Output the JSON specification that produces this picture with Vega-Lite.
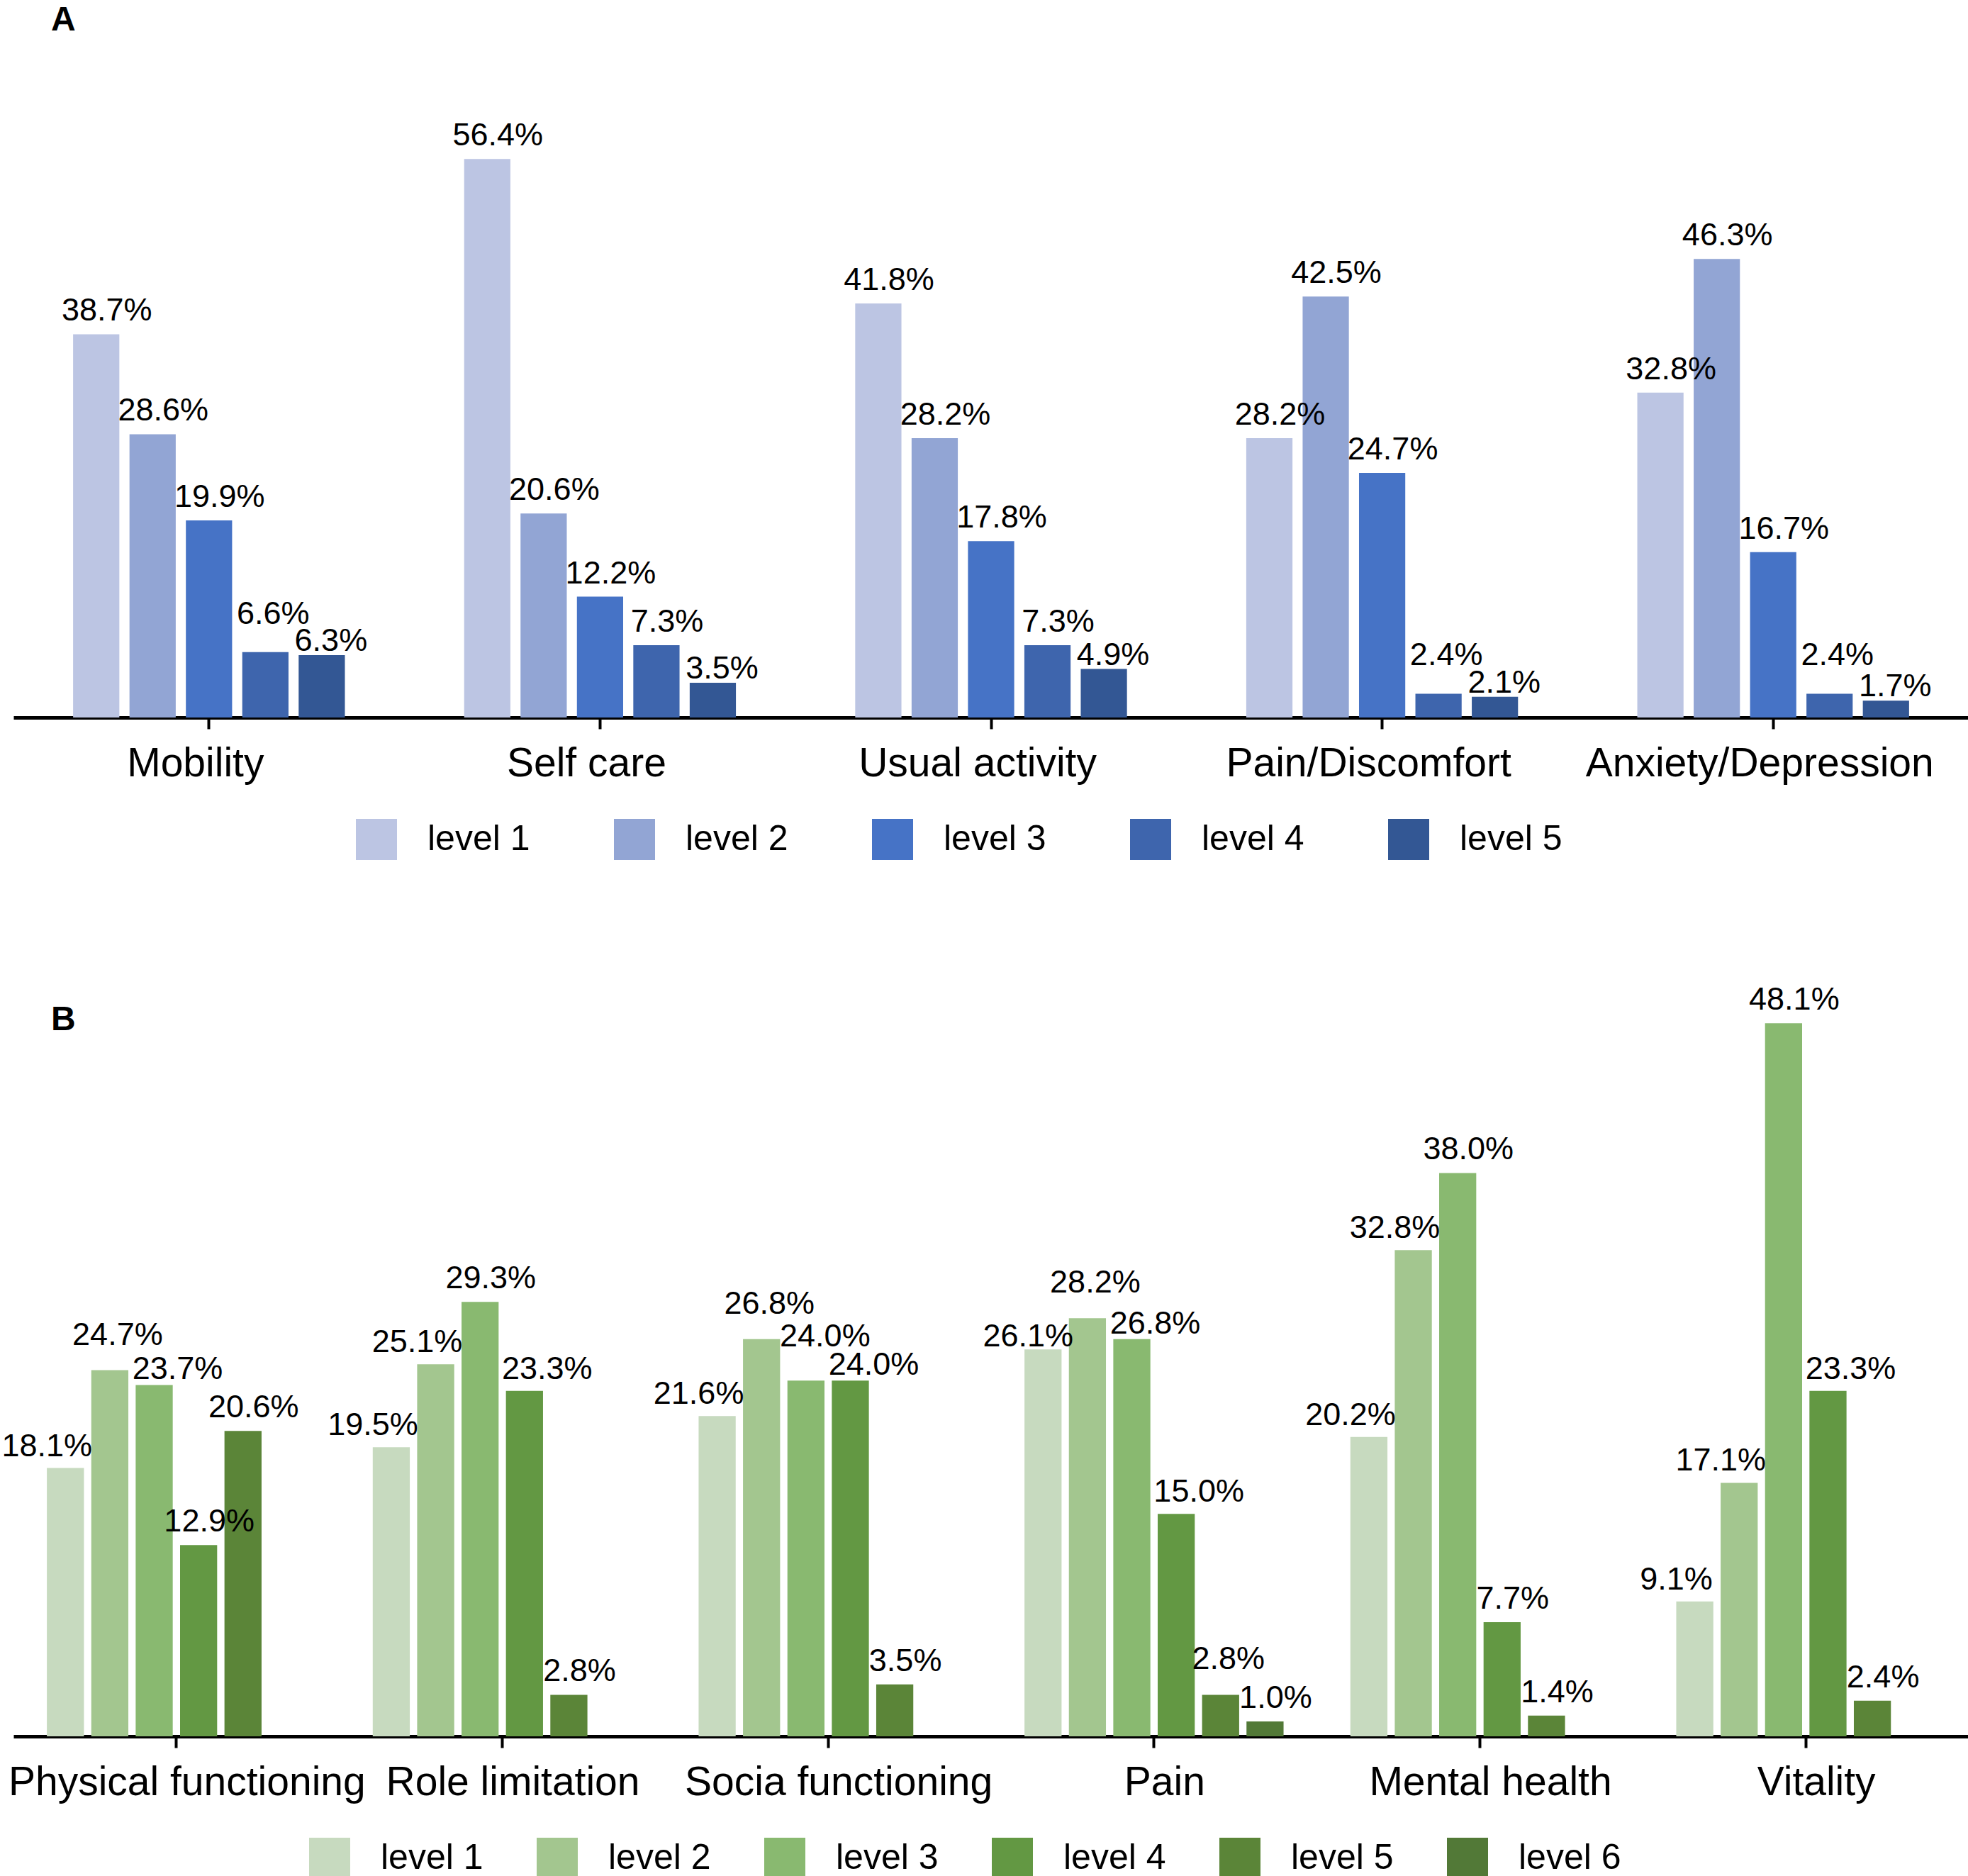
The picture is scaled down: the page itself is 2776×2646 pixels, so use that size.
{
  "$schema": "https://vega.github.io/schema/vega-lite/v6.json",
  "background": "white",
  "padding": {"left": 2, "top": 5, "right": 0, "bottom": 0},
  "autosize": {"type": "pad"},
  "spacing": 86,
  "config": {
    "view": {"stroke": null},
    "font": "Liberation Sans",
    "text": {"baseline": "alphabetic", "fontSize": 45, "color": "black"},
    "axisX": {
      "title": null,
      "labelAngle": 0,
      "labelFontSize": 57,
      "labelColor": "black",
      "labelPadding": 21,
      "labelLimit": 1000,
      "labelOverlap": false,
      "domainColor": "black",
      "domainWidth": 5,
      "tickColor": "black",
      "tickWidth": 4,
      "tickSize": 16,
      "grid": false
    },
    "legend": {
      "title": null,
      "orient": "none",
      "direction": "horizontal",
      "symbolType": "square",
      "symbolSize": 3364,
      "symbolStrokeWidth": 0,
      "symbolOpacity": 1,
      "labelFontSize": 50,
      "labelColor": "black",
      "labelOffset": 43,
      "labelLimit": 400,
      "padding": 0
    },
    "title": {
      "anchor": "start",
      "frame": "group",
      "fontSize": 48,
      "fontWeight": "bold",
      "color": "black",
      "baseline": "alphabetic"
    }
  },
  "resolve": {
    "scale": {"color": "independent", "xOffset": "independent", "x": "independent", "y": "independent"},
    "legend": {"color": "independent"}
  },
  "vconcat": [
    {
      "title": {"text": "A", "dx": 53, "offset": 51},
      "width": 2758,
      "height": 908,
      "data": {
        "values": [
          {"dimension": "Mobility", "level": "level 1", "share": 0.387},
          {"dimension": "Mobility", "level": "level 2", "share": 0.286},
          {"dimension": "Mobility", "level": "level 3", "share": 0.199},
          {"dimension": "Mobility", "level": "level 4", "share": 0.066},
          {"dimension": "Mobility", "level": "level 5", "share": 0.063},
          {"dimension": "Self care", "level": "level 1", "share": 0.564},
          {"dimension": "Self care", "level": "level 2", "share": 0.206},
          {"dimension": "Self care", "level": "level 3", "share": 0.122},
          {"dimension": "Self care", "level": "level 4", "share": 0.073},
          {"dimension": "Self care", "level": "level 5", "share": 0.035},
          {"dimension": "Usual activity", "level": "level 1", "share": 0.418},
          {"dimension": "Usual activity", "level": "level 2", "share": 0.282},
          {"dimension": "Usual activity", "level": "level 3", "share": 0.178},
          {"dimension": "Usual activity", "level": "level 4", "share": 0.073},
          {"dimension": "Usual activity", "level": "level 5", "share": 0.049},
          {"dimension": "Pain/Discomfort", "level": "level 1", "share": 0.282},
          {"dimension": "Pain/Discomfort", "level": "level 2", "share": 0.425},
          {"dimension": "Pain/Discomfort", "level": "level 3", "share": 0.247},
          {"dimension": "Pain/Discomfort", "level": "level 4", "share": 0.024},
          {"dimension": "Pain/Discomfort", "level": "level 5", "share": 0.021},
          {"dimension": "Anxiety/Depression", "level": "level 1", "share": 0.328},
          {"dimension": "Anxiety/Depression", "level": "level 2", "share": 0.463},
          {"dimension": "Anxiety/Depression", "level": "level 3", "share": 0.167},
          {"dimension": "Anxiety/Depression", "level": "level 4", "share": 0.024},
          {"dimension": "Anxiety/Depression", "level": "level 5", "share": 0.017}
        ]
      },
      "encoding": {
        "x": {
          "field": "dimension",
          "type": "nominal",
          "sort": null,
          "scale": {"paddingInner": 0.305, "paddingOuter": 0.1525},
          "axis": {"labelOffset": -19}
        },
        "xOffset": {
          "field": "level",
          "type": "nominal",
          "scale": {
            "domain": ["level 1", "level 2", "level 3", "level 4", "level 5"],
            "paddingInner": 0.18,
            "paddingOuter": 0
          }
        },
        "y": {
          "field": "share",
          "type": "quantitative",
          "scale": {"domain": [0, 0.65]},
          "axis": null
        },
        "text": {"field": "share", "type": "quantitative", "format": ".1%"}
      },
      "layer": [
        {
          "mark": {"type": "bar"},
          "encoding": {
            "color": {
              "field": "level",
              "type": "nominal",
              "scale": {
                "domain": ["level 1", "level 2", "level 3", "level 4", "level 5"],
                "range": ["#bcc5e3", "#92a5d4", "#4673c6", "#3e65ad", "#335794"]
              },
              "legend": {"legendX": 483, "legendY": 1051, "columnPadding": 118}
            },
            "text": null
          }
        },
        {
          "transform": [{"filter": "datum.level != 'level 5' && indexof(['Mobility|level 4', 'Pain/Discomfort|level 4', 'Anxiety/Depression|level 4'], datum.dimension + '|' + datum.level) < 0"}],
          "mark": {"type": "text", "dx": 15, "dy": -19}
        },
        {
          "transform": [{"filter": "indexof(['Mobility|level 4', 'Pain/Discomfort|level 4', 'Anxiety/Depression|level 4'], datum.dimension + '|' + datum.level) >= 0"}],
          "mark": {"type": "text", "dx": 11, "dy": -40}
        },
        {
          "transform": [{"filter": "datum.level == 'level 5'"}],
          "mark": {"type": "text", "dx": 13, "dy": -6}
        }
      ]
    },
    {
      "title": {"text": "B", "dx": 53, "offset": 0, "dy": 164},
      "width": 2758,
      "height": 1150,
      "data": {
        "values": [
          {"dimension": "Physical functioning", "level": "level 1", "share": 0.181},
          {"dimension": "Physical functioning", "level": "level 2", "share": 0.247},
          {"dimension": "Physical functioning", "level": "level 3", "share": 0.237},
          {"dimension": "Physical functioning", "level": "level 4", "share": 0.129},
          {"dimension": "Physical functioning", "level": "level 5", "share": 0.206},
          {"dimension": "Role limitation", "level": "level 1", "share": 0.195},
          {"dimension": "Role limitation", "level": "level 2", "share": 0.251},
          {"dimension": "Role limitation", "level": "level 3", "share": 0.293},
          {"dimension": "Role limitation", "level": "level 4", "share": 0.233},
          {"dimension": "Role limitation", "level": "level 5", "share": 0.028},
          {"dimension": "Socia functioning", "level": "level 1", "share": 0.216},
          {"dimension": "Socia functioning", "level": "level 2", "share": 0.268},
          {"dimension": "Socia functioning", "level": "level 3", "share": 0.240},
          {"dimension": "Socia functioning", "level": "level 4", "share": 0.240},
          {"dimension": "Socia functioning", "level": "level 5", "share": 0.035},
          {"dimension": "Pain", "level": "level 1", "share": 0.261},
          {"dimension": "Pain", "level": "level 2", "share": 0.282},
          {"dimension": "Pain", "level": "level 3", "share": 0.268},
          {"dimension": "Pain", "level": "level 4", "share": 0.150},
          {"dimension": "Pain", "level": "level 5", "share": 0.028},
          {"dimension": "Pain", "level": "level 6", "share": 0.010},
          {"dimension": "Mental health", "level": "level 1", "share": 0.202},
          {"dimension": "Mental health", "level": "level 2", "share": 0.328},
          {"dimension": "Mental health", "level": "level 3", "share": 0.380},
          {"dimension": "Mental health", "level": "level 4", "share": 0.077},
          {"dimension": "Mental health", "level": "level 5", "share": 0.014},
          {"dimension": "Vitality", "level": "level 1", "share": 0.091},
          {"dimension": "Vitality", "level": "level 2", "share": 0.171},
          {"dimension": "Vitality", "level": "level 3", "share": 0.481},
          {"dimension": "Vitality", "level": "level 4", "share": 0.233},
          {"dimension": "Vitality", "level": "level 5", "share": 0.024}
        ]
      },
      "encoding": {
        "x": {
          "field": "dimension",
          "type": "nominal",
          "sort": null,
          "scale": {"paddingInner": 0.205, "paddingOuter": 0.1025},
          "axis": {"labelOffset": 15}
        },
        "xOffset": {
          "field": "level",
          "type": "nominal",
          "scale": {
            "domain": ["level 1", "level 2", "level 3", "level 4", "level 5", "level 6"],
            "paddingInner": 0.165,
            "paddingOuter": 0
          }
        },
        "y": {
          "field": "share",
          "type": "quantitative",
          "scale": {"domain": [0, 0.55]},
          "axis": null
        },
        "text": {"field": "share", "type": "quantitative", "format": ".1%"}
      },
      "layer": [
        {
          "mark": {"type": "bar"},
          "encoding": {
            "color": {
              "field": "level",
              "type": "nominal",
              "scale": {
                "domain": ["level 1", "level 2", "level 3", "level 4", "level 5", "level 6"],
                "range": ["#c7dabf", "#a3c68f", "#89b970", "#639843", "#5b8538", "#527937"]
              },
              "legend": {"legendX": 417, "legendY": 1293, "columnPadding": 75}
            },
            "text": null
          }
        },
        {
          "transform": [{"filter": "indexof(['Physical functioning|level 2', 'Socia functioning|level 2', 'Pain|level 2', 'Pain|level 5', 'Physical functioning|level 1', 'Role limitation|level 1', 'Role limitation|level 2', 'Socia functioning|level 1', 'Mental health|level 1', 'Mental health|level 2', 'Vitality|level 1', 'Vitality|level 2', 'Pain|level 1', 'Physical functioning|level 3', 'Socia functioning|level 4', 'Pain|level 3', 'Role limitation|level 4', 'Pain|level 4', 'Vitality|level 4', 'Socia functioning|level 3'], datum.dimension + '|' + datum.level) < 0"}],
          "mark": {"type": "text", "dx": 15, "dy": -19}
        },
        {
          "transform": [{"filter": "indexof(['Physical functioning|level 2', 'Socia functioning|level 2', 'Pain|level 2', 'Pain|level 5'], datum.dimension + '|' + datum.level) >= 0"}],
          "mark": {"type": "text", "dx": 11, "dy": -36}
        },
        {
          "transform": [{"filter": "indexof(['Physical functioning|level 1', 'Role limitation|level 1', 'Role limitation|level 2', 'Socia functioning|level 1', 'Mental health|level 1', 'Mental health|level 2', 'Vitality|level 1', 'Vitality|level 2'], datum.dimension + '|' + datum.level) >= 0"}],
          "mark": {"type": "text", "dx": -26, "dy": -17}
        },
        {
          "transform": [{"filter": "datum.dimension == 'Pain' && datum.level == 'level 1'"}],
          "mark": {"type": "text", "dx": -21, "dy": -4}
        },
        {
          "transform": [{"filter": "indexof(['Physical functioning|level 3', 'Socia functioning|level 4', 'Pain|level 3'], datum.dimension + '|' + datum.level) >= 0"}],
          "mark": {"type": "text", "dx": 33, "dy": -8}
        },
        {
          "transform": [{"filter": "indexof(['Role limitation|level 4', 'Pain|level 4', 'Vitality|level 4'], datum.dimension + '|' + datum.level) >= 0"}],
          "mark": {"type": "text", "dx": 32, "dy": -17}
        },
        {
          "transform": [{"filter": "datum.dimension == 'Socia functioning' && datum.level == 'level 3'"}],
          "mark": {"type": "text", "dx": 27, "dy": -48}
        }
      ]
    }
  ]
}
